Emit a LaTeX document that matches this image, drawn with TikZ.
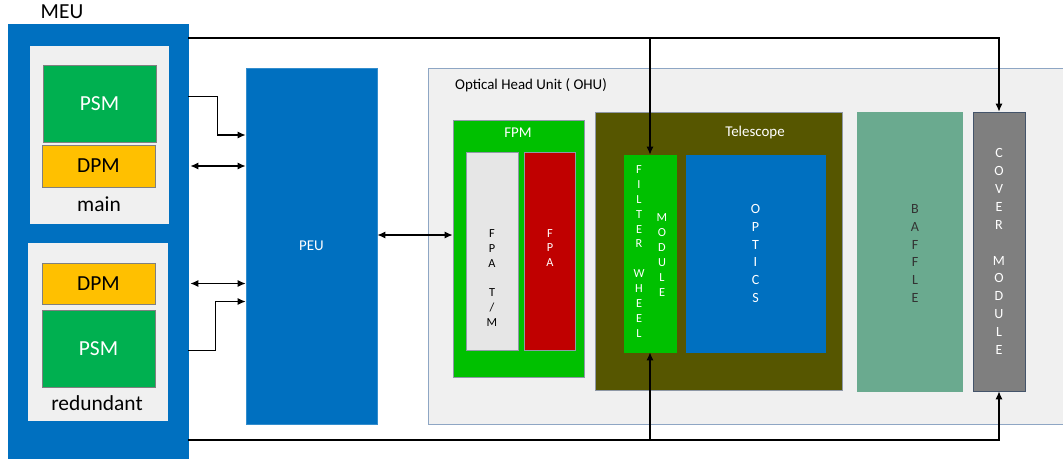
\documentclass[tikz,border=0pt]{standalone}
\usepackage{fontspec}
\setmainfont{Carlito}
\usetikzlibrary{arrows.meta,calc,positioning}
\definecolor{meublue}{HTML}{0070C0}
\definecolor{psmgreen}{HTML}{00B050}
\definecolor{dpmyellow}{HTML}{FFC000}
\definecolor{panelgrey}{HTML}{F0F0F0}
\definecolor{ohuedge}{HTML}{8EA6C4}
\definecolor{fpmgreen}{HTML}{00C000}
\definecolor{fpagrey}{HTML}{E6E6E6}
\definecolor{fpared}{HTML}{C00000}
\definecolor{olive}{HTML}{565600}
\definecolor{baffle}{HTML}{6AAA8F}
\definecolor{cover}{HTML}{7F7F7F}
\definecolor{edge}{HTML}{44546A}
\tikzset{>={Latex[length=4.5pt,width=4pt]},
  box/.style={rectangle,fill=#1,draw=#1,inner sep=0pt,line width=.4pt},
  wh/.style 2 args={minimum width=#1*.02cm,minimum height=#2*.02cm},
  big/.style={font=\fontsize{12.2}{14}\selectfont},
  small/.style={font=\fontsize{8.5}{10}\selectfont},
  stack/.style={align=center,font=\fontsize{7}{8.5}\selectfont},
  widestack/.style={align=center,font=\fontsize{8}{10.2}\selectfont},
  wire/.style={draw=black,line width=.7pt}}

\begin{document}
\begin{tikzpicture}[x=.02cm,y=-.02cm]
\useasboundingbox (0,0) rectangle (1063,460);
% MEU with main and redundant chains
\node[box=meublue,wh={180}{434}] (meu) at (98,241) {};
\node[big] (meulabel) at (62,12) {MEU};
\node[box=panelgrey,wh={138}{177}] (mainbox) at (99,134.5) {};
\node[box=psmgreen,draw=gray,wh={113}{77},big,text=white] (psmA) at (99.5,103.5) {PSM};
\node[box=dpmyellow,draw=gray,wh={113}{42},big] (dpmA) at (98.5,166) {DPM};
\node[big] (mainlabel) at (99,204) {main};
\node[box=panelgrey,wh={139}{177}] (redbox) at (97.5,331.5) {};
\node[box=dpmyellow,draw=gray,wh={113}{41},big] (dpmB) at (98.5,283.5) {DPM};
\node[box=psmgreen,draw=gray,wh={113}{77},big,text=white] (psmB) at (98.5,348.5) {PSM};
\node[big] (redlabel) at (97,403) {redundant};
% PEU
\node[box=meublue,draw=meublue!80!white,wh={131}{356},small,text=white] (peu) at (311.5,246) {PEU};
% OHU
\node[box=panelgrey,draw=ohuedge,anchor=north west,wh={660}{356}] (ohu) at (428,68) {};
\node[font=\fontsize{8.5}{10}\selectfont] (ohulabel) at (531,85) {Optical Head Unit ( OHU)};
\node[box=fpmgreen,draw=edge!60,wh={131}{257}] (fpm) at (518.5,248.5) {};
\node[small,text=white] (fpmlabel) at (518,133) {FPM};
\node[box=fpagrey,draw=edge!60,wh={52}{198}] (fpatm) at (492,251) {};
\node[stack] (fpatmtext) at (492,278) {F\\P\\A\\~\\T\\/\\M};
\node[box=fpared,draw=edge!60,wh={51}{198}] (fpa) at (549.5,251) {};
\node[stack,text=white] (fpatext) at (550,248) {F\\P\\A};
\node[box=olive,draw=edge!60,wh={247}{278}] (tele) at (718.5,251) {};
\node[small,text=white] (telelabel) at (755,133) {Telescope};
\node[box=fpmgreen,draw=fpmgreen,wh={52}{197}] (filter) at (650,253.5) {};
\node[stack,text=white] (filtertext) at (639,251.5) {F\\I\\L\\T\\E\\R\\~\\W\\H\\E\\E\\L};
\node[stack,text=white] (moduletext) at (662,255) {M\\O\\D\\U\\L\\E};
\node[box=meublue,wh={139}{197},widestack,text=white] (optics) at (755.5,253.5) {O\\P\\T\\I\\C\\S};
\node[box=baffle,wh={105}{279}] (baffle) at (909.5,251.5) {};
\node[widestack,text=black!80] (baffletext) at (915,253.5) {B\\A\\F\\F\\L\\E};
\node[box=cover,draw=edge,wh={52}{279},widestack,text=white] (cover) at (999,251.5) {C\\O\\V\\E\\R\\~\\M\\O\\D\\U\\L\\E};
% connections
\coordinate (busT) at (meu.east |- 0,38);
\coordinate (busB) at (meu.east |- 0,440);
\draw[wire,->] (busT) -| (cover.north);
\draw[wire,->] (busT -| filter.north) -- (filter.north);
\draw[wire,->] (busB) -| (cover.south);
\draw[wire,->] (busB -| filter.south) -- (filter.south);
\draw[wire,->] ($(meu.east |- psmA)+(0,-7)$) -- ++(29,0) |- ($(peu.west |- dpmA)+(0,-31)$);
\draw[wire,<->] ($(meu.east |- dpmA)+(2,0)$) -- (peu.west |- dpmA);
\draw[wire,<->] ($(meu.east |- dpmB)+(2,0)$) -- (peu.west |- dpmB);
\draw[wire,->] ($(meu.east |- psmB)+(0,2)$) -- ++(27,0) |- ($(peu.west |- dpmB)+(0,18)$);
\draw[wire,<->] ($(peu.east)+(0,-11)$) -- ($(fpm.west |- peu.east)+(0,-11)$);
\end{tikzpicture}
\end{document}
